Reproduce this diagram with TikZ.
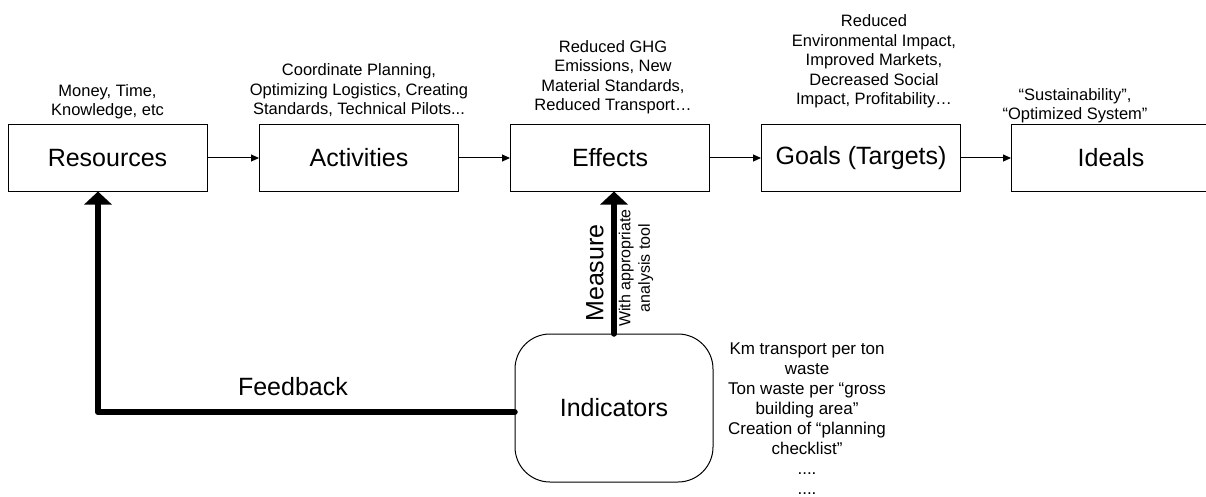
\documentclass[tikz,border=0pt]{standalone}
\usepackage{fontspec}
\setmainfont{Liberation Sans}
\usepackage{tikz}
\usetikzlibrary{arrows.meta,positioning,calc}

\begin{document}
\begin{tikzpicture}[
    x=1pt, y=-1pt,
    block/.style={rectangle, draw, line width=1pt, minimum width=199pt, minimum height=66pt, font=\fontsize{25}{30}\selectfont},
    indicator/.style={rectangle, draw, line width=1pt, rounded corners=35pt, minimum width=198pt, minimum height=148pt, font=\fontsize{25}{30}\selectfont},
    note/.style={align=center, inner sep=0pt, text depth=0pt, anchor=south, font=\fontsize{16.5}{19.5}\selectfont},
    flow/.style={-{Triangle[length=8pt, width=7pt]}, line width=1pt},
    bigflow/.style={-{Triangle[length=13pt, width=27pt]}, line width=6.5pt, line cap=round, line join=round},
    biglabel/.style={font=\fontsize{25}{30}\selectfont}
]
\useasboundingbox (0,0) rectangle (1206,497);

% Chain of stages
\node[block] (res) at (107.5, 158) {Resources};
\node[block] (act) at (359, 158) {Activities};
\node[block] (eff) at (610, 158) {Effects};
\node[block] (goal) at (861, 158) {Goals (Targets)};
\node[block] (ideal) at (1111, 158) {Ideals};

% Notes above the stages
\node[note] (resnote) at (107.5, 116) {Money, Time,\\Knowledge, etc};
\node[note] (actnote) at (359, 115) {Coordinate Planning,\\Optimizing Logistics, Creating\\Standards, Technical Pilots...};
\node[note] (effnote) at (613, 111) {Reduced GHG\\Emissions, New\\Material Standards,\\Reduced Transport…};
\node[note] (goalnote) at (874, 105) {Reduced\\Environmental Impact,\\Improved Markets,\\Decreased Social\\Impact, Profitability…};
\node[note] (idealnote) at (1075, 120) {“Sustainability”,\\“Optimized System”};

% Indicators
\node[indicator] (ind) at (614, 408) {Indicators};
\node[anchor=north, align=center, inner sep=0pt, font=\fontsize{17}{20}\selectfont] (indlist) at (807, 343)
    {Km transport per ton\\waste\\Ton waste per “gross\\building area”\\Creation of “planning\\checklist”\\....\\....};

% Flows between stages
\draw[flow] (res) -- (act);
\draw[flow] (act) -- (eff);
\draw[flow] (eff) -- (goal);
\draw[flow] (goal) -- (ideal);

% Measure and feedback
\draw[bigflow] (ind.north) -- (ind.north |- eff.south);
\node[biglabel, rotate=90] (measure) at (595, 273) {Measure};
\node[rotate=90, align=center, font=\fontsize{16}{19.5}\selectfont] (tool) at (636, 268) {With appropriate\\analysis tool};

\draw[bigflow] ([yshift=-4pt]ind.west) -| node[pos=0.266, above=10pt, biglabel] (fb) {Feedback} ([xshift=-9.5pt]res.south);

\end{tikzpicture}
\end{document}
